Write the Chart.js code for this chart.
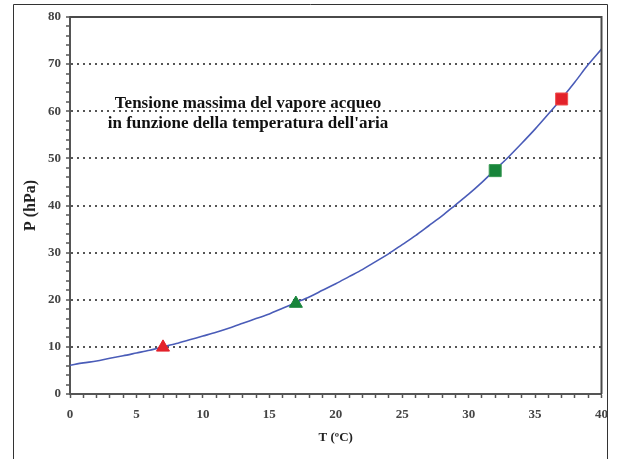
<!DOCTYPE html>
<html lang="it">
<head>
    <meta charset="UTF-8">
    <title>Tensione massima del vapore acqueo</title>
    <script src="https://cdn.jsdelivr.net/npm/chart.js"></script>
    <style>
        body {
            margin: 0;
            background: #fff;
        }
        canvas {
            display: block;
        }
    </style>
</head>
<body>
    <canvas id="myChart" width="617" height="459"></canvas>
    <script>
        // curva, un punto per grado
        const temps = [0, 1, 2, 3, 4, 5, 6, 7, 8, 9, 10, 11, 12, 13, 14, 15, 16, 17, 18, 19, 20,
                       21, 22, 23, 24, 25, 26, 27, 28, 29, 30, 31, 32, 33, 34, 35, 36, 37, 38, 39, 40];
        const pressure = [6.1, 6.6, 7.0, 7.6, 8.1, 8.7, 9.3, 10.0, 10.7, 11.5, 12.3, 13.1, 14.0, 15.0, 16.0, 17.0,
                          18.2, 19.4, 20.6, 22.0, 23.4, 24.9, 26.4, 28.1, 29.8, 31.7, 33.6, 35.7, 37.8, 40.1, 42.4,
                          44.9, 47.6, 50.3, 53.2, 56.2, 59.4, 62.7, 66.2, 69.9, 73.2];

        // punti evidenziati
        const triangleT = [7, 17];
        const triangleP = [9.9, 19.2];
        const squareT = [32, 37];
        const squareP = [47.4, 62.6];

        const noteLines = ['Tensione massima del vapore acqueo', 'in funzione della temperatura dell\'aria'];

        const red = '#e3222b';
        const green = '#17843a';

        const pts = (xs, ys) => xs.map((x, i) => ({ x: x, y: ys[i] }));

        // cornice esterna, bordo del grafico e nota
        const decor = {
            id: 'decor',
            beforeDraw(chart) {
                const ctx = chart.ctx;
                ctx.save();
                ctx.fillStyle = '#fff';
                ctx.fillRect(0, 0, chart.width, chart.height);
                ctx.strokeStyle = '#333';
                ctx.lineWidth = 1;
                ctx.beginPath();
                ctx.moveTo(13.5, chart.height + 2);
                ctx.lineTo(13.5, 4.5);
                ctx.lineTo(607.5, 4.5);
                ctx.lineTo(607.5, chart.height + 2);
                ctx.stroke();
                ctx.restore();
            },
            afterDatasetsDraw(chart) {
                const ctx = chart.ctx;
                const a = chart.chartArea;
                ctx.save();
                ctx.strokeStyle = '#4a4a4a';
                ctx.lineWidth = 2;
                ctx.beginPath();
                ctx.moveTo(a.left, a.top);
                ctx.lineTo(a.right, a.top);
                ctx.lineTo(a.right, a.bottom);
                ctx.stroke();

                ctx.fillStyle = '#111';
                ctx.font = 'bold 17px "Liberation Serif", serif';
                ctx.textAlign = 'center';
                ctx.textBaseline = 'alphabetic';
                ctx.fillText(noteLines[0], 248, 108);
                ctx.fillText(noteLines[1], 248, 128);
                ctx.restore();
            }
        };

        const tickFont = { family: '"Liberation Serif", serif', size: 13, weight: 'bold' };

        new Chart(document.getElementById('myChart'), {
            type: 'scatter',
            data: {
                datasets: [
                    {
                        type: 'line',
                        order: 10,
                        data: pts(temps, pressure),
                        borderColor: '#4a5cb8',
                        borderWidth: 1.6,
                        pointRadius: 0,
                        tension: 0.3,
                        fill: false
                    },
                    {
                        order: 1,
                        data: [pts(triangleT, triangleP)[0]],
                        pointStyle: 'triangle',
                        pointRadius: 7.5,
                        backgroundColor: red,
                        borderColor: red,
                        borderWidth: 1
                    },
                    {
                        order: 1,
                        data: [pts(triangleT, triangleP)[1]],
                        pointStyle: 'triangle',
                        pointRadius: 7.5,
                        backgroundColor: green,
                        borderColor: green,
                        borderWidth: 1
                    },
                    {
                        order: 1,
                        data: [pts(squareT, squareP)[0]],
                        pointStyle: 'rect',
                        pointRadius: 8.5,
                        backgroundColor: green,
                        borderColor: '#3a9a55',
                        borderWidth: 1
                    },
                    {
                        order: 1,
                        data: [pts(squareT, squareP)[1]],
                        pointStyle: 'rect',
                        pointRadius: 8.5,
                        backgroundColor: red,
                        borderColor: '#f05050',
                        borderWidth: 1
                    }
                ]
            },
            options: {
                responsive: false,
                animation: false,
                layout: {
                    padding: { left: 0, top: 17, right: 15, bottom: 0 }
                },
                plugins: {
                    legend: { display: false },
                    tooltip: { enabled: false }
                },
                scales: {
                    x: {
                        type: 'linear',
                        min: 0,
                        max: 40,
                        afterFit(scale) { scale.height = 65; },
                        ticks: {
                            stepSize: 1,
                            autoSkip: false,
                            maxRotation: 0,
                            padding: 9,
                            color: '#444',
                            font: tickFont,
                            callback: v => (v % 5 === 0 ? v : '')
                        },
                        grid: {
                            drawOnChartArea: false,
                            tickLength: 4,
                            tickColor: '#555',
                            tickWidth: 1.5
                        },
                        border: { display: true, color: '#555', width: 2 },
                        title: {
                            display: true,
                            text: 'T (ºC)',
                            color: '#222',
                            font: { family: '"Liberation Serif", serif', size: 13, weight: 'bold' },
                            padding: { top: 0, bottom: 14 }
                        }
                    },
                    y: {
                        min: 0,
                        max: 80,
                        afterFit(scale) { scale.width = 70; },
                        ticks: {
                            stepSize: 2,
                            autoSkip: false,
                            padding: 5,
                            color: '#444',
                            font: tickFont,
                            callback: v => (v % 10 === 0 ? v : '')
                        },
                        grid: {
                            color: ctx => (ctx.tick && ctx.tick.value % 10 === 0 && ctx.tick.value > 0 && ctx.tick.value < 80) ? '#555' : 'rgba(0,0,0,0)',
                            lineWidth: 2,
                            tickLength: 4,
                            tickColor: '#555',
                            tickWidth: 1.5
                        },
                        border: { display: true, color: '#555', width: 2, dash: [2, 4] },
                        title: {
                            display: true,
                            text: 'P (hPa)',
                            color: '#222',
                            font: { family: '"Liberation Serif", serif', size: 16, weight: 'bold' },
                            padding: { top: 21, bottom: 0 }
                        }
                    }
                }
            },
            plugins: [decor]
        });
    </script>
</body>
</html>
